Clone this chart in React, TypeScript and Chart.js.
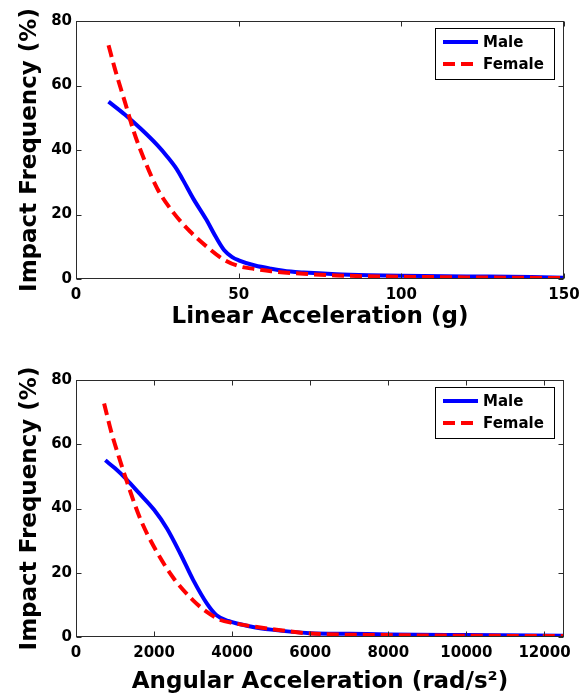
import React, { useEffect, useRef } from "react";
import { Chart, registerables } from "chart.js";
Chart.register(...registerables);

const FONT = "'DejaVu Sans', 'Liberation Sans', sans-serif";

// Linear acceleration panel
const linMaleX = [10, 15, 20, 25, 28, 31, 33, 36, 40, 43, 45.5, 48, 50, 55, 60, 66, 70, 80, 90, 100, 120, 140, 150];
const linMaleY = [55, 51, 46.5, 41.5, 38, 34, 30.5, 25, 18.5, 13, 9, 6.8, 5.8, 4.2, 3.2, 2.3, 2, 1.5, 1.2, 1, 0.8, 0.6, 0.4];
const linFemaleX = [10, 12, 15, 18, 21, 25, 30, 35, 40, 45, 50, 55, 60, 70, 80, 100, 120, 150];
const linFemaleY = [72.5, 65, 55, 45, 37, 28, 20.5, 14.8, 10.2, 6.3, 4, 3.1, 2.4, 1.6, 1.1, 0.7, 0.5, 0.3];

// Angular acceleration panel
const angMaleX = [750, 1000, 1300, 1600, 2000, 2330, 2670, 3000, 3350, 3600, 3900, 4500, 5000, 6000, 7000, 8000, 10000, 12500];
const angMaleY = [55, 52.5, 49, 45, 39.6, 33.8, 26, 17.8, 10.5, 6.8, 5, 3.2, 2.3, 1.2, 1, 0.8, 0.6, 0.4];
const angFemaleX = [720, 900, 1100, 1300, 1640, 2000, 2500, 3000, 3350, 3700, 4000, 5000, 6000, 8000, 10000, 12500];
const angFemaleY = [72.7, 64, 56, 48.5, 37, 28, 18.3, 11.4, 7.8, 5.3, 4.4, 2.5, 1.1, 0.6, 0.4, 0.3];

const linearTicks = [0, 50, 100, 150];
const angularTicks = [0, 2000, 4000, 6000, 8000, 10000, 12000];
const freqTicks = [0, 20, 40, 60, 80];

const seriesLabels = ["Male", "Female"];
const yTitle = "Impact Frequency (%)";
const linearTitle = "Linear Acceleration (g)";
const angularTitle = "Angular Acceleration (rad/s\u00B2)";

const pts = (xs: number[], ys: number[]) => xs.map((x, i) => ({ x, y: ys[i] }));

const matlabPlugin = {
  id: "matlabBox",
  afterDatasetsDraw(chart: any) {
    const { ctx, chartArea: a, scales } = chart;
    const xs = scales.x;
    const ys = scales.y;
    ctx.save();
    ctx.strokeStyle = "#2b2b2b";
    ctx.lineWidth = 1;
    const L = Math.round(a.left) + 0.5;
    const R = Math.round(a.right) - 0.5;
    const T = Math.round(a.top) + 0.5;
    const B = Math.round(a.bottom) - 0.5;
    ctx.strokeRect(L, T, R - L, B - T);
    const tl = 5;
    ctx.beginPath();
    xs.ticks.forEach((t: any) => {
      const p = Math.round(xs.getPixelForValue(t.value)) + 0.5;
      ctx.moveTo(p, B);
      ctx.lineTo(p, B - tl);
      ctx.moveTo(p, T);
      ctx.lineTo(p, T + tl);
    });
    ys.ticks.forEach((t: any) => {
      const p = Math.round(ys.getPixelForValue(t.value)) + 0.5;
      ctx.moveTo(L, p);
      ctx.lineTo(L + tl, p);
      ctx.moveTo(R, p);
      ctx.lineTo(R - tl, p);
    });
    ctx.stroke();
    ctx.restore();
  },
  afterDraw(chart: any) {
    const { ctx, chartArea: a } = chart;
    const w = 119;
    const h = 51;
    const left = Math.round(a.right) - 10 - w;
    const top = Math.round(a.top) + 7;
    ctx.save();
    ctx.fillStyle = "#ffffff";
    ctx.fillRect(left, top, w, h);
    ctx.strokeStyle = "#000000";
    ctx.lineWidth = 1;
    ctx.strokeRect(left + 0.5, top + 0.5, w, h);
    chart.data.datasets.forEach((ds: any, i: number) => {
      const y = top + 14 + 22 * i;
      ctx.strokeStyle = ds.borderColor;
      ctx.lineWidth = ds.borderWidth;
      ctx.setLineDash(ds.borderDash || []);
      ctx.beginPath();
      ctx.moveTo(left + 8, y);
      ctx.lineTo(left + 43, y);
      ctx.stroke();
      ctx.setLineDash([]);
      ctx.fillStyle = "#000000";
      ctx.font = `bold 15px ${FONT}`;
      ctx.textBaseline = "middle";
      ctx.textAlign = "left";
      ctx.fillText(ds.label, left + 48, y + 1);
    });
    ctx.restore();
  },
};

type PanelProps = {
  height: number;
  maleX: number[];
  maleY: number[];
  femaleX: number[];
  femaleY: number[];
  xTicks: number[];
  xMax: number;
  xTitle: string;
  padTop: number;
  xAxisH: number;
  titleBottom: number;
};

function Panel(p: PanelProps) {
  const ref = useRef<HTMLCanvasElement | null>(null);
  useEffect(() => {
    if (!ref.current) return;
    const tickFont = { family: FONT, size: 15, weight: "bold" as const };
    const titleFont = { family: FONT, size: 23, weight: "bold" as const };
    const chart = new Chart(ref.current, {
      type: "line",
      data: {
        datasets: [
          {
            label: seriesLabels[0],
            data: pts(p.maleX, p.maleY),
            borderColor: "#0000ff",
            borderWidth: 4,
            pointRadius: 0,
            cubicInterpolationMode: "monotone",
            fill: false,
            order: 1,
          },
          {
            label: seriesLabels[1],
            data: pts(p.femaleX, p.femaleY),
            borderColor: "#ff0000",
            borderWidth: 4,
            borderDash: [12, 6],
            pointRadius: 0,
            cubicInterpolationMode: "monotone",
            fill: false,
            order: 0,
          },
        ],
      },
      options: {
        responsive: false,
        animation: false,
        layout: { padding: { top: p.padTop, right: 23, left: 0, bottom: 0 } },
        plugins: { legend: { display: false }, tooltip: { enabled: false } },
        scales: {
          x: {
            type: "linear",
            min: 0,
            max: p.xMax,
            afterBuildTicks: (s: any) => {
              s.ticks = p.xTicks.map((v) => ({ value: v }));
            },
            afterFit: (s: any) => {
              s.height = p.xAxisH;
            },
            grid: { display: false, drawTicks: false },
            border: { display: false },
            ticks: {
              padding: 7,
              font: tickFont,
              color: "#000",
              maxRotation: 0,
              autoSkip: false,
              callback: (v: any) => String(v),
            },
            title: {
              display: true,
              text: p.xTitle,
              font: titleFont,
              color: "#000",
              padding: { top: 0, bottom: p.titleBottom },
            },
          },
          y: {
            type: "linear",
            min: 0,
            max: 80,
            afterBuildTicks: (s: any) => {
              s.ticks = freqTicks.map((v) => ({ value: v }));
            },
            afterFit: (s: any) => {
              s.width = 76;
            },
            grid: { display: false, drawTicks: false },
            border: { display: false },
            ticks: {
              padding: 4,
              font: tickFont,
              color: "#000",
              autoSkip: false,
              callback: (v: any) => String(v),
            },
            title: {
              display: true,
              text: yTitle,
              font: titleFont,
              color: "#000",
              padding: { top: 16, bottom: 0 },
            },
          },
        },
      },
      plugins: [matlabPlugin],
    } as any);
    return () => chart.destroy();
  }, []);
  return (
    <div style={{ width: 587, height: p.height }}>
      <canvas ref={ref} width={587} height={p.height} style={{ display: "block" }} />
    </div>
  );
}

export default function App() {
  return (
    <div style={{ position: "absolute", left: 0, top: 0, width: 587, height: 696, background: "#fff" }}>
      <Panel
        height={340}
        maleX={linMaleX}
        maleY={linMaleY}
        femaleX={linFemaleX}
        femaleY={linFemaleY}
        xTicks={linearTicks}
        xMax={150}
        xTitle={linearTitle}
        padTop={21}
        xAxisH={61}
        titleBottom={9}
      />
      <Panel
        height={356}
        maleX={angMaleX}
        maleY={angMaleY}
        femaleX={angFemaleX}
        femaleY={angFemaleY}
        xTicks={angularTicks}
        xMax={12500}
        xTitle={angularTitle}
        padTop={40}
        xAxisH={59}
        titleBottom={0}
      />
    </div>
  );
}
